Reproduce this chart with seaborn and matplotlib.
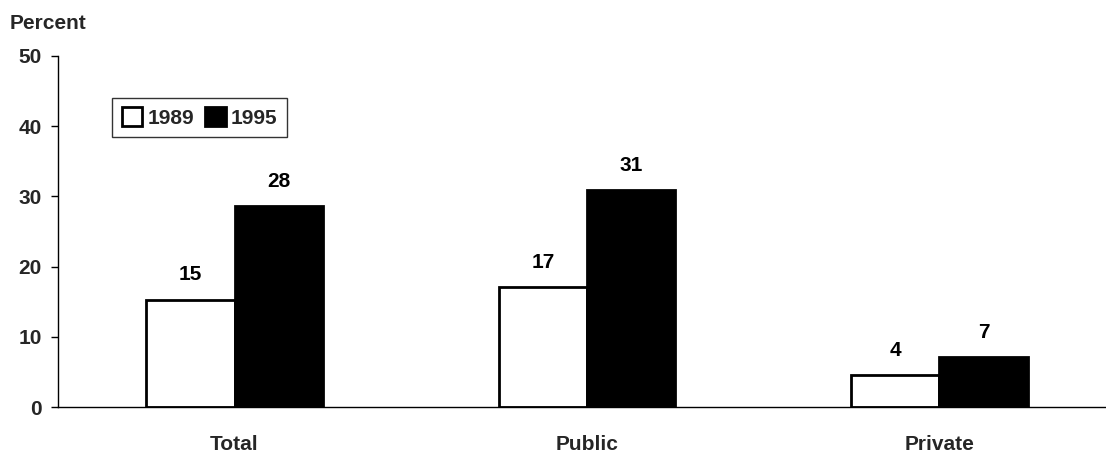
import matplotlib
matplotlib.use("Agg")
import matplotlib.pyplot as plt
import seaborn as sns
import pandas as pd

categories = ["Total", "Public", "Private"]
years = ["1989", "1995"]
values_1989 = [15.3, 17.1, 4.6]
values_1995 = [28.6, 30.9, 7.1]
labels_1989 = ["15", "17", "4"]
labels_1995 = ["28", "31", "7"]
y_ticks = [0, 10, 20, 30, 40, 50]

sns.set_theme(style="white")
plt.rcParams["font.family"] = ["Liberation Sans", "DejaVu Sans"]
plt.rcParams["font.weight"] = "bold"
FS = 15

df = pd.DataFrame({
    "Category": categories * 2,
    "Year": [years[0]] * 3 + [years[1]] * 3,
    "Value": values_1989 + values_1995,
})

fig = plt.figure(figsize=(11.06, 4.58), dpi=100)
ax = fig.add_axes([0.0527, 0.111, 0.956, 0.767])

sns.barplot(data=df, x="Category", y="Value", hue="Year", order=categories,
            hue_order=years, palette=["white", "black"], width=0.5,
            edgecolor="black", linewidth=2, ax=ax, errorbar=None)

for container, labs in zip(ax.containers, [labels_1989, labels_1995]):
    ax.bar_label(container, labels=labs, padding=11, fontsize=FS, color="black",
                 fontweight="bold")

ax.set_xlim(-0.5, 2.5)
ax.set_ylim(0, 50)
ax.set_yticks(y_ticks)
ax.set_yticklabels([str(t) for t in y_ticks], fontsize=FS, fontweight="bold")
ax.tick_params(axis="x", length=0, labelsize=FS, pad=20)
ax.tick_params(axis="y", left=True, length=5, width=1, color="black", labelsize=FS, pad=7)
for lab in ax.get_xticklabels():
    lab.set_fontweight("bold")
ax.set_xlabel("")
ax.set_ylabel("")
for s in ["top", "right"]:
    ax.spines[s].set_visible(False)
for s in ["left", "bottom"]:
    ax.spines[s].set_color("black")
    ax.spines[s].set_linewidth(1)

fig.text(0.009, 0.928, "Percent", fontsize=FS, ha="left", va="bottom", fontweight="bold")

leg = ax.legend(loc="upper left", bbox_to_anchor=(0.051, 0.88), ncol=2, title=None,
                prop={"size": FS, "weight": "bold"}, frameon=True, fancybox=False,
                edgecolor="black", handlelength=1.0, handleheight=1.0,
                handletextpad=0.25, columnspacing=0.5, borderpad=0.45,
                borderaxespad=0)
leg.get_frame().set_linewidth(1)

fig.savefig("out.png", dpi=100)
